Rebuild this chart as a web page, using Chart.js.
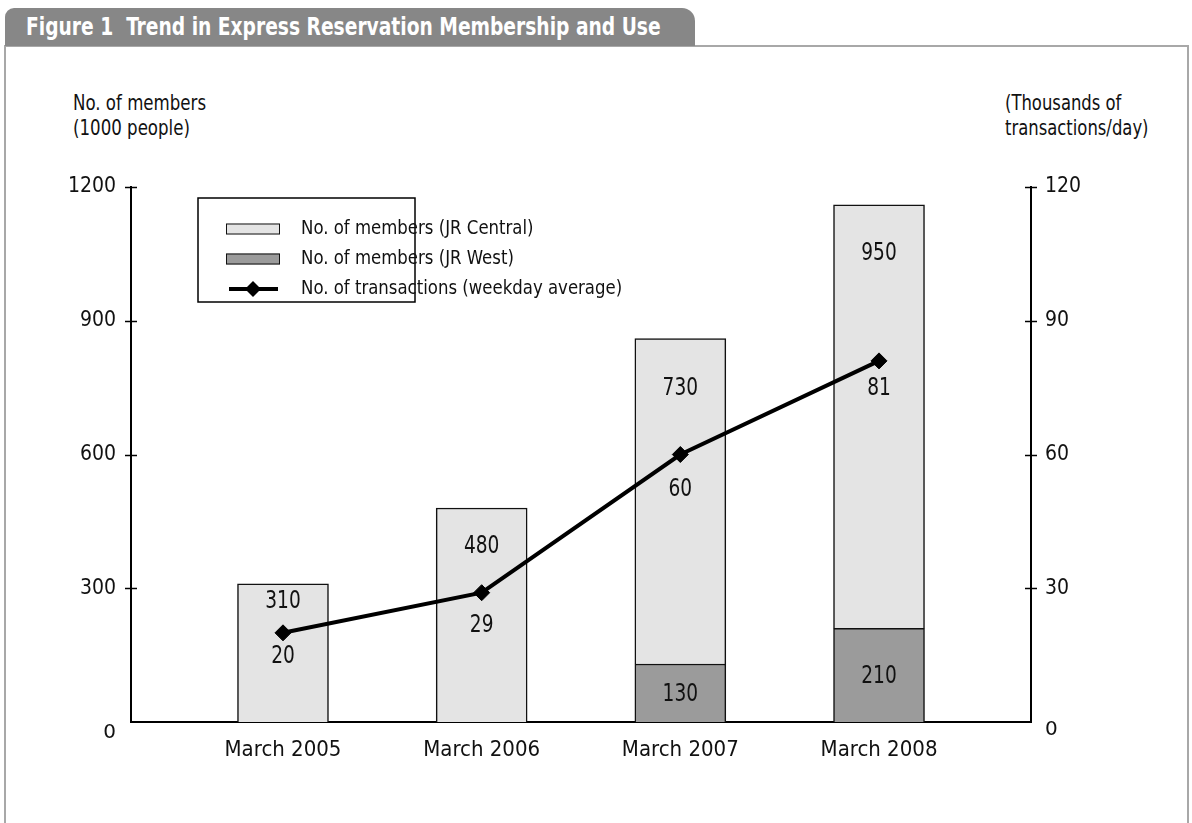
<!DOCTYPE html>
<html>
<head>
<meta charset="utf-8">
<script src="https://cdn.jsdelivr.net/npm/chart.js@4.4.1/dist/chart.umd.min.js"></script>
<style>
  body { margin: 0; background: #fff; }
  #wrap { position: relative; width: 1192px; height: 823px; overflow: hidden;
          font-family: 'Liberation Sans Narrow', 'DejaVu Sans Condensed', sans-serif; color: #111; }
  #tab { position: absolute; left: 5px; top: 8px; width: 690px; height: 38px; background: #878787;
         border-radius: 9px 13px 0 0; color: #fff; font-weight: bold; font-size: 25px;
         line-height: 38px; padding-left: 21px; box-sizing: border-box; white-space: pre; }
  #frame { position: absolute; left: 4px; top: 45px; width: 1185px; height: 820px;
           border: 2px solid #a8a8a8; border-bottom: none; box-sizing: border-box; }
  .axis-title { position: absolute; font-size: 22px; line-height: 25px; white-space: nowrap; }
  .squeeze { display: inline-block; transform-origin: 0 0; white-space: pre; }
  #chartBox { position: absolute; left: 0; top: 0; width: 1192px; height: 823px; }
</style>
</head>
<body>
<div id="wrap">
  <div id="frame"></div>
  <div id="tab"><span class="squeeze" style="transform:scaleX(0.83)">Figure 1  Trend in Express Reservation Membership and Use</span></div>
  <div class="axis-title" style="left:73px; top:90px;"><span class="squeeze" style="transform:scaleX(0.84)">No. of members<br>(1000 people)</span></div>
  <div class="axis-title" style="left:1005px; top:90px;"><span class="squeeze" style="transform:scaleX(0.83)">(Thousands of<br>transactions/day)</span></div>
  <div id="chartBox"><canvas id="myChart"></canvas></div>
</div>
<script>
var FONT = "'Liberation Sans Narrow', 'DejaVu Sans Condensed', sans-serif";

// data
var categories = ["March 2005", "March 2006", "March 2007", "March 2008"];
var membersCentral = [310, 480, 730, 950];
var membersWest = [null, null, 130, 210];
var transactions = [20, 29, 60, 81];
var memberTicks = [0, 300, 600, 900, 1200];
var transactionTicks = [0, 30, 60, 90, 120];

// where the value labels sit relative to bar tops / points (px)
var centralOffset = [18, 39, 50, 49];
var pointOffset = [24, 33, 35, 28];

function toXY(arr) {
    return arr.map(function(v, i) { return {x: i, y: v}; });
}

// text squeezed horizontally, the source uses a condensed face
function narrowText(ctx, text, x, y, sx) {
    ctx.save();
    ctx.translate(x, y);
    ctx.scale(sx, 1);
    ctx.fillText(text, 0, 0);
    ctx.restore();
}

var valueLabels = {
    id: 'valueLabels',
    afterDatasetsDraw: function(chart) {
        var ctx = chart.ctx;
        ctx.save();
        ctx.font = '24px ' + FONT;
        ctx.fillStyle = '#111';
        ctx.textAlign = 'center';
        ctx.textBaseline = 'middle';
        chart.getDatasetMeta(1).data.forEach(function(bar, i) {
            narrowText(ctx, membersCentral[i], bar.x, bar.y + centralOffset[i], 0.86);
        });
        chart.getDatasetMeta(0).data.forEach(function(bar, i) {
            if (membersWest[i] == null) return;
            narrowText(ctx, membersWest[i], bar.x, (bar.y + bar.base) / 2 + 2, 0.86);
        });
        chart.getDatasetMeta(2).data.forEach(function(pt, i) {
            narrowText(ctx, transactions[i], pt.x, pt.y + pointOffset[i], 0.86);
        });
        ctx.restore();
    }
};

// tick marks that cross the axis line
var crossTicks = {
    id: 'crossTicks',
    afterDatasetsDraw: function(chart) {
        var ctx = chart.ctx;
        var area = chart.chartArea;
        ctx.save();
        ctx.strokeStyle = '#000';
        ctx.lineWidth = 1.5;
        ['y', 'y2'].forEach(function(id) {
            var scale = chart.scales[id];
            var x = id === 'y' ? area.left : area.right;
            scale.ticks.forEach(function(t) {
                if (t.value === 0) return;
                var y = Math.round(scale.getPixelForValue(t.value)) + 0.5;
                ctx.beginPath();
                ctx.moveTo(x - 6, y);
                ctx.lineTo(x + 6, y);
                ctx.stroke();
            });
        });
        ctx.restore();
    }
};

var boxLegend = {
    id: 'boxLegend',
    afterDraw: function(chart) {
        var ctx = chart.ctx;
        var area = chart.chartArea;
        var left = area.left + 67, top = area.top + 11;
        var ds = chart.data.datasets;
        var items = [ds[1], ds[0], ds[2]];
        ctx.save();
        ctx.fillStyle = '#fff';
        ctx.fillRect(left, top, 217, 104);
        ctx.strokeStyle = '#000';
        ctx.lineWidth = 1.5;
        ctx.strokeRect(left, top, 217, 104);
        ctx.font = '20px ' + FONT;
        ctx.textBaseline = 'middle';
        ctx.textAlign = 'left';
        items.forEach(function(d, i) {
            var cy = top + 31 + i * 30;
            if (d.type === 'line') {
                ctx.strokeStyle = d.borderColor;
                ctx.lineWidth = 4;
                ctx.beginPath();
                ctx.moveTo(left + 31, cy);
                ctx.lineTo(left + 80, cy);
                ctx.stroke();
                ctx.fillStyle = d.pointBackgroundColor;
                ctx.beginPath();
                ctx.moveTo(left + 55 - 8, cy);
                ctx.lineTo(left + 55, cy - 8);
                ctx.lineTo(left + 55 + 8, cy);
                ctx.lineTo(left + 55, cy + 8);
                ctx.closePath();
                ctx.fill();
            } else {
                ctx.fillStyle = d.backgroundColor;
                ctx.fillRect(left + 28, cy - 5.5, 54, 11);
                ctx.strokeStyle = '#111';
                ctx.lineWidth = 1;
                ctx.strokeRect(left + 28.5, cy - 5, 53, 10);
            }
            ctx.fillStyle = '#111';
            narrowText(ctx, d.label, left + 103, cy, 0.92);
        });
        ctx.restore();
    }
};

var ctx = document.getElementById('myChart').getContext('2d');
var chart = new Chart(ctx, {
    type: 'bar',
    data: {
        datasets: [{
            label: "No. of members (JR West)",
            data: toXY(membersWest),
            backgroundColor: "#9b9b9b",
            borderColor: "#111",
            borderWidth: 1.5,
            barThickness: 91,
            yAxisID: 'y',
            order: 1
        }, {
            label: "No. of members (JR Central)",
            data: toXY(membersCentral),
            backgroundColor: "#e4e4e4",
            borderColor: "#111",
            borderWidth: 1.5,
            barThickness: 91,
            yAxisID: 'y',
            order: 1
        }, {
            type: 'line',
            label: "No. of transactions (weekday average)",
            data: toXY(transactions),
            borderColor: "#000",
            borderWidth: 4,
            pointStyle: 'rectRot',
            pointRadius: 8,
            pointBackgroundColor: "#000",
            pointBorderColor: "#000",
            pointBorderWidth: 1,
            tension: 0,
            yAxisID: 'y2',
            order: 0
        }]
    },
    options: {
        responsive: true,
        maintainAspectRatio: false,
        animation: false,
        layout: { padding: { top: 187, left: 0, right: 0, bottom: 0 } },
        plugins: { legend: { display: false }, tooltip: { enabled: false } },
        scales: {
            x: {
                type: 'linear',
                offset: false,
                stacked: true,
                min: -0.765,
                max: 3.765,
                afterBuildTicks: function(s) {
                    s.ticks = categories.map(function(c, i) { return {value: i}; });
                },
                afterFit: function(s) { s.height = 101; },
                grid: { display: false, drawTicks: false },
                border: { display: true, color: '#000', width: 2 },
                ticks: {
                    padding: 15,
                    color: '#111',
                    font: { family: FONT, size: 22 },
                    callback: function(v) { return categories[v]; }
                }
            },
            y: {
                position: 'left',
                stacked: true,
                min: 0,
                max: 1200,
                afterBuildTicks: function(s) {
                    s.ticks = memberTicks.map(function(v) { return {value: v}; });
                },
                afterFit: function(s) { s.width = 131; },
                grid: { display: false, drawTicks: false },
                border: { display: true, color: '#000', width: 2 },
                ticks: {
                    padding: 15,
                    color: '#111',
                    font: function(c) {
                        if (c.tick && c.tick.value === 0) return { family: 'DejaVu Sans', size: 20, lineHeight: '22px' };
                        return { family: FONT, size: 21 };
                    },
                    callback: function(v) { return v === 0 ? ['', '0'] : v; }
                }
            },
            y2: {
                position: 'right',
                min: 0,
                max: 120,
                afterBuildTicks: function(s) {
                    s.ticks = transactionTicks.map(function(v) { return {value: v}; });
                },
                afterFit: function(s) { s.width = 161; },
                grid: { display: false, drawTicks: false },
                border: { display: true, color: '#000', width: 2 },
                ticks: {
                    padding: 14,
                    color: '#111',
                    font: function(c) {
                        if (c.tick && c.tick.value === 0) return { family: 'DejaVu Sans', size: 20, lineHeight: '15px' };
                        return { family: FONT, size: 21 };
                    },
                    callback: function(v) { return v === 0 ? ['', '0'] : v; }
                }
            }
        }
    },
    plugins: [valueLabels, crossTicks, boxLegend]
});
</script>
</body>
</html>
